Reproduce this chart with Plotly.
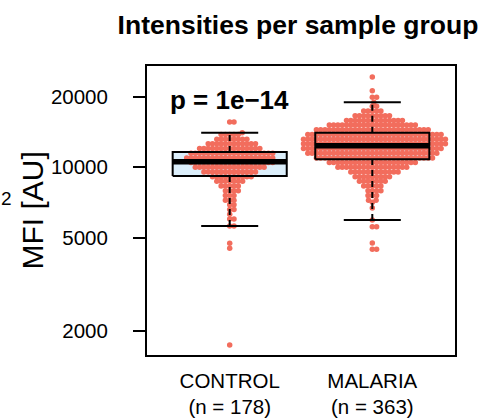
import math
import numpy as np
import plotly.graph_objects as go

# ---------------- data ----------------
groups = ["CONTROL", "MALARIA"]
group_n = [178, 363]
tick_labels = ["CONTROL<br>(n = 178)", "MALARIA<br>(n = 363)"]

# beeswarm rows: MFI level and number of samples at that level
control_levels = [15600, 14050, 13804, 13183, 12589, 12023, 11482, 10965, 10471, 10000,
                  9550, 9120, 8710, 8318, 7943, 7586, 7244, 6918, 6607, 6310,
                  6026, 5625, 4745, 4520, 1746]
control_counts = [2, 1, 5, 8, 12, 15, 20, 21, 20, 17,
                  13, 10, 7, 5, 4, 3, 3, 2, 2, 1,
                  2, 2, 1, 1, 1]

malaria_levels = [24300, 21200, 19900, 18930, 18197, 17378, 16596, 15849, 15136, 14454,
                  13804, 13183, 12589, 12023, 11482, 10965, 10471, 10000, 9550, 9120,
                  8710, 8318, 7943, 7586, 7244, 7100, 6700, 5960, 5580, 4760, 4470]
malaria_counts = [1, 1, 2, 1, 2, 5, 9, 14, 21, 27,
                  32, 34, 34, 33, 31, 28, 21, 17, 12, 9,
                  7, 5, 4, 3, 2, 1, 1, 1, 2, 1, 2]

# box statistics
box_q1 = [9180, 10820]
box_median = [10570, 12360]
box_q3 = [11620, 14050]
whisker_low = [5625, 5960]
whisker_high = [14050, 18930]

y_ticks = [2000, 5000, 10000, 20000]
p_label = "p = 1e\u221214"

# ---------------- layout constants ----------------
W, H = 487, 420
ML, MR, MT, MB = 147, 32, 66, 65
X_RANGE = [0.42, 2.58]
Y_RANGE = [3.1996, 4.432]  # log10
PT_COLOR = "#F26D5D"
BOX_FILL = "#DCEFFB"
FONT = "Liberation Sans, Arial, sans-serif"

plot_w = W - ML - MR
plot_h = H - MT - MB
xpx = plot_w / (X_RANGE[1] - X_RANGE[0])
ypx = plot_h / (Y_RANGE[1] - Y_RANGE[0])


def swarm_offsets(values, d):
    ys = np.log10(np.asarray(values, dtype=float)) * ypx
    order = np.argsort(ys, kind="stable")
    px_list, py_list = [], []
    xs = np.zeros(len(ys))
    for i in order:
        y = ys[i]
        cands = [0.0]
        for px, py in zip(px_list, py_list):
            dy = abs(py - y)
            if dy < d:
                off = math.sqrt(d * d - dy * dy)
                cands.append(px + off)
                cands.append(px - off)
        cands.sort(key=lambda c: (round(abs(c), 6), -c))
        chosen = 0.0
        for c in cands:
            ok = True
            for px, py in zip(px_list, py_list):
                if (c - px) ** 2 + (y - py) ** 2 < d * d - 1e-6:
                    ok = False
                    break
            if ok:
                chosen = c
                break
        xs[i] = chosen
        px_list.append(chosen)
        py_list.append(y)
    return xs


def expand(levels, counts):
    out = []
    for v, c in zip(levels, counts):
        out += [v] * c
    return out


group_values = [expand(control_levels, control_counts), expand(malaria_levels, malaria_counts)]

fig = go.Figure()

# box fills (under points)
for i in range(2):
    c = i + 1
    fig.add_trace(go.Scatter(
        x=[c - 0.4, c + 0.4, c + 0.4, c - 0.4, c - 0.4],
        y=[box_q1[i], box_q1[i], box_q3[i], box_q3[i], box_q1[i]],
        mode="lines", fill="toself", fillcolor=BOX_FILL,
        line=dict(width=0, color=BOX_FILL), hoverinfo="skip", showlegend=False))

# swarm points
for i in range(2):
    vals = group_values[i]
    offs = swarm_offsets(vals, 4.3)
    fig.add_trace(go.Scatter(
        x=(i + 1) + offs / xpx, y=vals, mode="markers",
        marker=dict(size=5.5, color=PT_COLOR, line=dict(width=0)),
        name=groups[i], showlegend=False))

# box lines on top
for i in range(2):
    c = i + 1
    line_k = dict(color="black", width=2)
    fig.add_trace(go.Scatter(x=[c, c], y=[box_q3[i], whisker_high[i]], mode="lines",
                             line=dict(color="black", width=2, dash="6px,5px"),
                             hoverinfo="skip", showlegend=False))
    fig.add_trace(go.Scatter(x=[c, c], y=[whisker_low[i], box_q1[i]], mode="lines",
                             line=dict(color="black", width=2, dash="6px,5px"),
                             hoverinfo="skip", showlegend=False))
    fig.add_trace(go.Scatter(x=[c - 0.2, c + 0.2], y=[whisker_high[i]] * 2, mode="lines",
                             line=line_k, hoverinfo="skip", showlegend=False))
    fig.add_trace(go.Scatter(x=[c - 0.2, c + 0.2], y=[whisker_low[i]] * 2, mode="lines",
                             line=line_k, hoverinfo="skip", showlegend=False))
    fig.add_trace(go.Scatter(
        x=[c - 0.4, c + 0.4, c + 0.4, c - 0.4, c - 0.4],
        y=[box_q1[i], box_q1[i], box_q3[i], box_q3[i], box_q1[i]],
        mode="lines", line=line_k, hoverinfo="skip", showlegend=False))
    fig.add_trace(go.Scatter(x=[c - 0.4, c + 0.4], y=[box_median[i]] * 2, mode="lines",
                             line=dict(color="black", width=5.5),
                             hoverinfo="skip", showlegend=False))

fig.update_layout(
    width=W, height=H, autosize=False,
    margin=dict(l=ML, r=MR, t=MT, b=MB, pad=0, autoexpand=False),
    paper_bgcolor="white", plot_bgcolor="white",
    font=dict(family=FONT, color="black"),
    title=dict(text="<b>Intensities per sample group</b>", x=(ML + plot_w / 2 - 3) / W, xanchor="center",
               y=1 - 25 / H, yanchor="middle", font=dict(size=26.5, family=FONT, color="black")),
    xaxis=dict(range=X_RANGE, tickvals=[1, 2], ticktext=tick_labels, ticks="",
               showline=True, mirror=True, linecolor="black", linewidth=2,
               showgrid=False, zeroline=False, tickfont=dict(size=20.5),
               ticklabelstandoff=6, automargin=False),
    yaxis=dict(type="log", range=Y_RANGE, tickvals=y_ticks, ticktext=[str(t) for t in y_ticks],
               ticks="outside", ticklen=12, tickwidth=2, tickcolor="black",
               showline=True, mirror=True, linecolor="black", linewidth=2,
               showgrid=False, zeroline=False, tickfont=dict(size=20.5),
               ticklabelstandoff=21, automargin=False),
    annotations=[
        dict(text="<b>" + p_label + "</b>", x=1, xref="x", y=(355 - 99.5) / plot_h, yref="paper",
             xanchor="center", yanchor="middle", showarrow=False, font=dict(size=26)),
        dict(text="MFI [AU]", textangle=-90, x=(32 - ML) / plot_w, xref="paper", y=0.5, yref="paper",
             xanchor="center", yanchor="middle", showarrow=False, font=dict(size=30)),
        dict(text="2", x=(6 - ML) / plot_w, xref="paper", y=(355 - 198) / plot_h, yref="paper",
             xanchor="center", yanchor="middle", showarrow=False, font=dict(size=19)),
    ],
)

fig.write_html("out.html", config={"displayModeBar": False},
               post_script="document.body.style.margin='0';document.body.style.padding='0';")
